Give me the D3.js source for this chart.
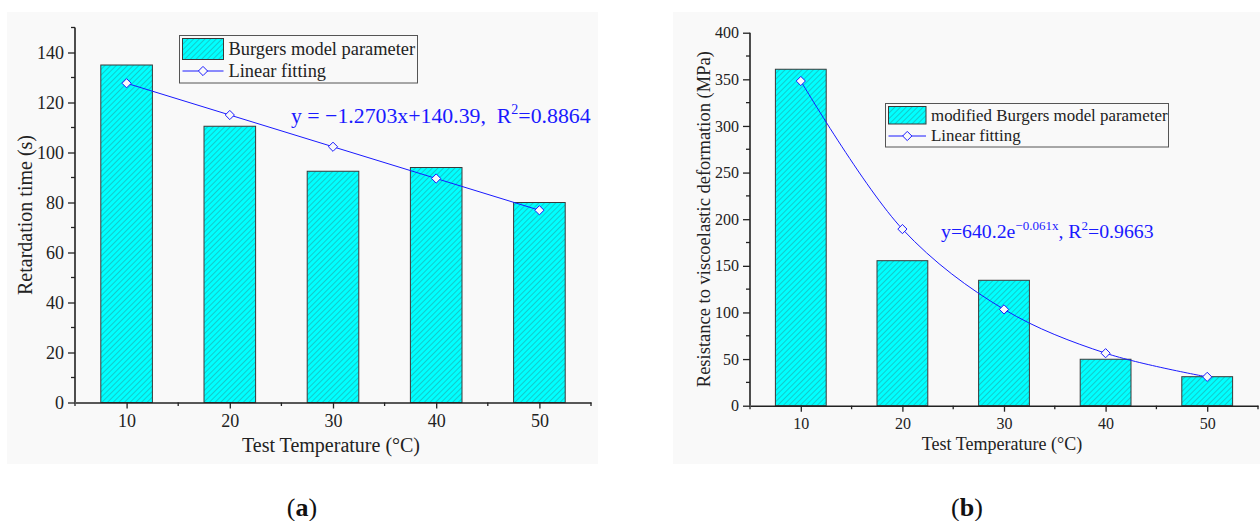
<!DOCTYPE html>
<html><head><meta charset="utf-8">
<script src="https://cdn.jsdelivr.net/npm/d3@7"></script>
<style>body{margin:0;background:#fff}svg{display:block}</style>
</head><body>
<svg id="chart" width="1260" height="521"></svg>
<script>
// ---- data ----
const temps = [10, 20, 30, 40, 50];
const retardationTime = [135, 110.5, 92.5, 94, 80];
const retardationFit = [127.7, 115.0, 102.3, 89.6, 76.9];
const resistance = [360.8, 155.5, 134.5, 49.8, 31.1];
const resistanceFit = [348.2, 189.4, 103.3, 56.3, 30.9];
const yTicksA = [0, 20, 40, 60, 80, 100, 120, 140];
const yTicksB = [0, 50, 100, 150, 200, 250, 300, 350, 400];
const xTicks = [10, 20, 30, 40, 50];

const svg = d3.select("#chart");
const FONT = "'Liberation Serif','Times New Roman',serif";

const defs = svg.append("defs");
const pat = defs.append("pattern").attr("id", "hatch").attr("patternUnits", "userSpaceOnUse")
  .attr("width", 4).attr("height", 4).attr("patternTransform", "rotate(45)");
pat.append("rect").attr("width", 4).attr("height", 4).attr("fill", "#00ffff");
pat.append("line").attr("x1", 0).attr("y1", 0).attr("x2", 0).attr("y2", 4)
  .attr("stroke", "#2f7a7a").attr("stroke-width", 0.8);

function diamond(g, x, y, r) {
  g.append("path").attr("d", `M${x},${y - r}L${x + r},${y}L${x},${y + r}L${x - r},${y}Z`)
    .attr("fill", "#f9f9f9").attr("stroke", "#1a1aff").attr("stroke-width", 1);
}

function panel(o) {
  const g = svg.append("g");
  g.append("rect").attr("x", o.bg[0]).attr("y", o.bg[1]).attr("width", o.bg[2]).attr("height", o.bg[3]).attr("fill", "#f9f9f9");
  const x = d3.scaleLinear().domain([5, 55]).range([o.left, o.right]);
  const y = d3.scaleLinear().domain([0, o.ymax]).range([o.bottom, o.top]);

  // bars
  g.selectAll("rect.bar").data(o.values).join("rect").attr("class", "bar")
    .attr("x", (d, i) => x(temps[i] - 2.5)).attr("width", (d, i) => x(temps[i] + 2.5) - x(temps[i] - 2.5))
    .attr("y", d => y(d)).attr("height", d => y(0) - y(d))
    .attr("fill", "url(#hatch)").attr("stroke", "#3a3a3a").attr("stroke-width", 1);

  // fit line
  const line = d3.line().x((d, i) => x(temps[i])).y(d => y(d)).curve(o.curve);
  g.append("path").datum(o.fit).attr("d", line).attr("fill", "none").attr("stroke", "#1a1aff").attr("stroke-width", 1);
  o.fit.forEach((d, i) => diamond(g, x(temps[i]), y(d), 4.6));

  // axes
  const ax = g.append("g").attr("transform", `translate(0,${o.bottom})`)
    .call(d3.axisBottom(x).tickValues(xTicks).tickSize(6).tickSizeOuter(0).tickPadding(6));
  const minorX = d3.range(5, 56, 10);
  ax.selectAll("line.minor").data(minorX).join("line").attr("class", "minor")
    .attr("x1", d => x(d)).attr("x2", d => x(d)).attr("y1", 0).attr("y2", 3.5).attr("stroke", "#222").attr("stroke-width", 1.3);
  const ay = g.append("g").attr("transform", `translate(${o.left},0)`)
    .call(d3.axisLeft(y).tickValues(o.yTicks).tickSize(7).tickSizeOuter(0).tickPadding(4));
  const minorY = o.yTicks.map(t => t + o.yStep / 2).filter(t => t <= o.ymax);
  ay.selectAll("line.minor").data(minorY).join("line").attr("class", "minor")
    .attr("y1", d => y(d)).attr("y2", d => y(d)).attr("x1", 0).attr("x2", -4).attr("stroke", "#222").attr("stroke-width", 1.3);
  [ax, ay].forEach(a => {
    a.select(".domain").attr("stroke", "#222").attr("stroke-width", 1.6);
    a.selectAll(".tick line").attr("stroke", "#222").attr("stroke-width", 1.3);
    a.selectAll(".tick text").attr("font-family", FONT).attr("font-size", o.fs).attr("fill", "#222");
  });
  ay.select(".domain").attr("d", `M0,${o.bottom}V${o.top}`);

  // axis titles
  g.append("text").attr("x", (o.left + x(55)) / 2 - 2).attr("y", o.xTitleY).attr("text-anchor", "middle")
    .attr("font-family", FONT).attr("font-size", o.tfs).attr("fill", "#222").text("Test Temperature (\u00b0C)");
  g.append("text").attr("transform", `translate(${o.yTitleX},${(o.top + o.bottom) / 2}) rotate(-90)`)
    .attr("text-anchor", "middle").attr("font-family", FONT).attr("font-size", o.ytfs).attr("fill", "#222").text(o.yTitle);

  // legend
  const L = o.legend;
  g.append("rect").attr("x", L.x).attr("y", L.y).attr("width", L.w).attr("height", L.h)
    .attr("fill", "#f9f9f9").attr("stroke", "#555").attr("stroke-width", 1);
  g.append("rect").attr("x", L.x + 3).attr("y", L.y + 3).attr("width", L.sw).attr("height", L.sh)
    .attr("fill", "url(#hatch)").attr("stroke", "#3a3a3a").attr("stroke-width", 1);
  g.append("line").attr("x1", L.x + 3).attr("x2", L.x + 3 + L.sw).attr("y1", L.ly).attr("y2", L.ly)
    .attr("stroke", "#1a1aff").attr("stroke-width", 1);
  diamond(g, L.x + 3 + L.sw / 2, L.ly, 4.6);
  g.append("text").attr("x", L.x + L.sw + 8).attr("y", L.t1).attr("font-family", FONT).attr("font-size", L.fs).attr("fill", "#222").text(L.label);
  g.append("text").attr("x", L.x + L.sw + 8).attr("y", L.t2).attr("font-family", FONT).attr("font-size", L.fs).attr("fill", "#222").text("Linear fitting");

  // caption
  g.append("text").attr("x", o.capX).attr("y", 516).attr("text-anchor", "middle")
    .attr("font-family", FONT).attr("font-size", 26).attr("fill", "#111")
    .html(`(<tspan font-weight="bold">${o.cap}</tspan>)`);
  return g;
}

const gA = panel({
  bg: [7, 12, 591, 452], left: 75, right: 591, top: 27.5, bottom: 402.5, ymax: 150, yStep: 20,
  values: retardationTime, fit: retardationFit, curve: d3.curveLinear, yTicks: yTicksA, fs: 18, tfs: 20, ytfs: 20,
  xTitleY: 452, yTitleX: 32, yTitle: "Retardation time (s)",
  legend: { x: 179.5, y: 35.5, w: 238, h: 47.5, sw: 41, sh: 21, ly: 71, t1: 55, t2: 77, fs: 18.4, label: "Burgers model parameter" },
  capX: 302, cap: "a"
});
const eqA = gA.append("text").attr("x", 291).attr("y", 123).attr("font-family", FONT).attr("font-size", 21.8).attr("fill", "#1a1aff");
eqA.append("tspan").text("y = \u22121.2703x+140.39,\u00a0\u00a0R");
eqA.append("tspan").attr("dy", -9).attr("font-size", 14).text("2");
eqA.append("tspan").attr("dy", 9).text("=0.8864");

const gB = panel({
  bg: [673, 12, 587, 452], left: 750, right: 1258, top: 32.7, bottom: 405.7, ymax: 400, yStep: 50,
  values: resistance, fit: resistanceFit, curve: d3.curveCatmullRom.alpha(0.5), yTicks: yTicksB, fs: 16, tfs: 18, ytfs: 18.5,
  xTitleY: 450, yTitleX: 710, yTitle: "Resistance to viscoelastic deformation (MPa)",
  legend: { x: 885.5, y: 103.5, w: 283, h: 43.5, sw: 37.5, sh: 17.5, ly: 136, t1: 121, t2: 141, fs: 16.9, label: "modified Burgers model parameter" },
  capX: 967, cap: "b"
});
const eqB = gB.append("text").attr("x", 941).attr("y", 238).attr("font-family", FONT).attr("font-size", 19.8).attr("fill", "#1a1aff");
eqB.append("tspan").text("y=640.2e");
eqB.append("tspan").attr("dy", -8).attr("font-size", 13).text("\u22120.061x");
eqB.append("tspan").attr("dy", 8).text(", R");
eqB.append("tspan").attr("dy", -8).attr("font-size", 13).text("2");
eqB.append("tspan").attr("dy", 8).text("=0.9663");
</script>
</body></html>
